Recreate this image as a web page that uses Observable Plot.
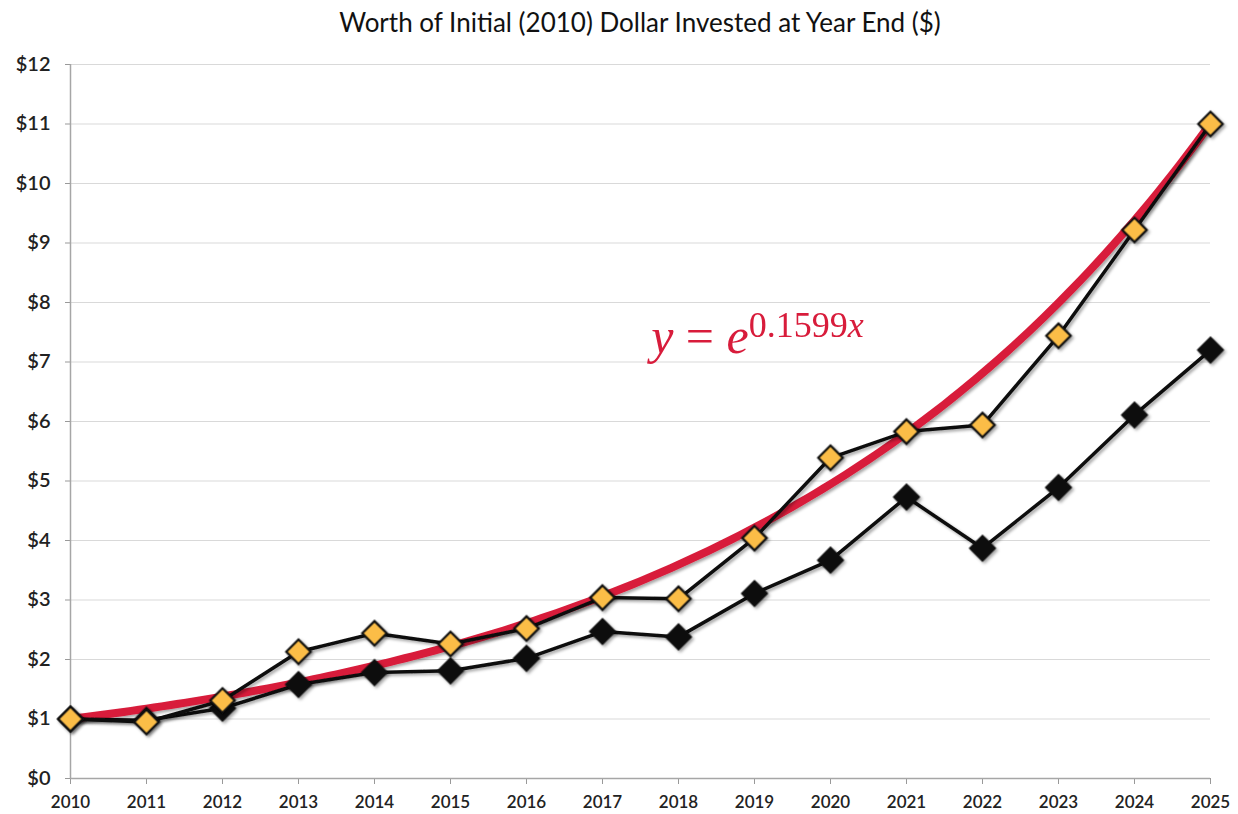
<!DOCTYPE html>
<html>
<head>
<meta charset="utf-8">
<script src="https://cdn.jsdelivr.net/npm/d3@7"></script>
<script src="https://cdn.jsdelivr.net/npm/@observablehq/plot@0.6"></script>
<style>
  body { margin: 0; background: #fff; }
  #title { height: 44px; box-sizing: border-box; padding: 6px 28px 0 70px; text-align: center;
           font-family: Lato, "Open Sans", sans-serif; font-size: 26px; color: #111; }
  #chart svg { display: block; }
</style>
</head>
<body>
<div id="title">Worth of Initial (2010) Dollar Invested at Year End ($)</div>
<div id="chart"></div>
<script>
const years = [2010, 2011, 2012, 2013, 2014, 2015, 2016, 2017, 2018, 2019, 2020, 2021, 2022, 2023, 2024, 2025];
const orangeValues = [1.00, 0.95, 1.31, 2.13, 2.44, 2.26, 2.52, 3.04, 3.02, 4.04, 5.39, 5.83, 5.94, 7.44, 9.22, 11.00];
const blackValues = [1.00, 0.98, 1.18, 1.58, 1.78, 1.81, 2.02, 2.47, 2.38, 3.11, 3.67, 4.73, 3.87, 4.89, 6.11, 7.20];
const yTicks = [0, 1, 2, 3, 4, 5, 6, 7, 8, 9, 10, 11, 12];
const trendCoef = 0.1599;
const equationLabel = "y = e^0.1599x";
const equationAnchor = {year: 2017.64, value: 7.42};

const orange = years.map((year, i) => ({year, value: orangeValues[i]}));
const black = years.map((year, i) => ({year, value: blackValues[i]}));
// trend line y = e^(0.1599 * (year - 2010)), as displayed in the chart
const trend = d3.range(0, 15.001, 0.1).map(t => ({year: 2010 + t, value: Math.exp(trendCoef * t)}));

const plot = Plot.plot({
  width: 1238,
  height: 770,
  marginTop: 20,
  marginBottom: 36,
  marginLeft: 70,
  marginRight: 28,
  style: {fontFamily: "Lato, 'Open Sans', sans-serif", fontSize: "17px", color: "#222", background: "#fff"},
  x: {domain: [2010, 2025], label: null},
  y: {domain: [0, 12], label: null},
  marks: [
    Plot.gridY(yTicks, {stroke: "#d9d9d9", strokeOpacity: 1, strokeWidth: 1.2}),
    Plot.axisY(yTicks, {tickFormat: d => "$" + d, tickSize: 5, tickPadding: 15, stroke: "#999", fontSize: 20, fontWeight: 600, fill: "#222", label: null}),
    Plot.axisX(years, {tickFormat: d => String(d), tickSize: 6, tickPadding: 11, stroke: "#999", fontSize: 17, fontWeight: 600, fill: "#222", label: null}),
    Plot.ruleX([2010], {stroke: "#a6a6a6", strokeWidth: 1.5}),
    Plot.ruleY([0], {stroke: "#a6a6a6", strokeWidth: 1.5}),
    Plot.line(trend, {x: "year", y: "value", stroke: "#d81c3b", strokeWidth: 8}),
    Plot.line(black, {x: "year", y: "value", stroke: "#111", strokeWidth: 3.5}),
    Plot.dot(black, {x: "year", y: "value", symbol: "diamond2", r: 11.5, fill: "#111", stroke: "#111", strokeWidth: 1.5}),
    Plot.line(orange, {x: "year", y: "value", stroke: "#111", strokeWidth: 3.5}),
    Plot.dot(orange, {x: "year", y: "value", symbol: "diamond2", r: 11, fill: "#fbbd47", stroke: "#111", strokeWidth: 2.2}),
    Plot.text([equationAnchor], {x: "year", y: "value", text: () => equationLabel, textAnchor: "start", fill: "#d81c3b", fontSize: 50})
  ]
});

// drop shadow filter
const svg = d3.select(plot);
const defs = svg.insert("defs", ":first-child");
const f = defs.append("filter").attr("id", "shadow").attr("x", "-20%").attr("y", "-20%").attr("width", "140%").attr("height", "140%");
f.append("feDropShadow").attr("dx", 2).attr("dy", 2).attr("stdDeviation", 1.5).attr("flood-color", "#000").attr("flood-opacity", 0.35);
svg.selectAll('g[aria-label="line"], g[aria-label="dot"]').attr("filter", "url(#shadow)");

// format equation with italics and superscript
svg.selectAll('g[aria-label="text"] text').each(function() {
  const t = d3.select(this);
  t.text(null).style("font-family", "'Liberation Serif', 'DejaVu Serif', serif");
  t.append("tspan").style("font-style", "italic").text("y");
  t.append("tspan").text(" = ");
  t.append("tspan").style("font-style", "italic").text("e");
  t.append("tspan").attr("dy", "-0.45em").style("font-size", "36px").text("0.1599");
  t.append("tspan").style("font-size", "36px").style("font-style", "italic").text("x");
});

document.getElementById("chart").appendChild(plot);
</script>
</body>
</html>
